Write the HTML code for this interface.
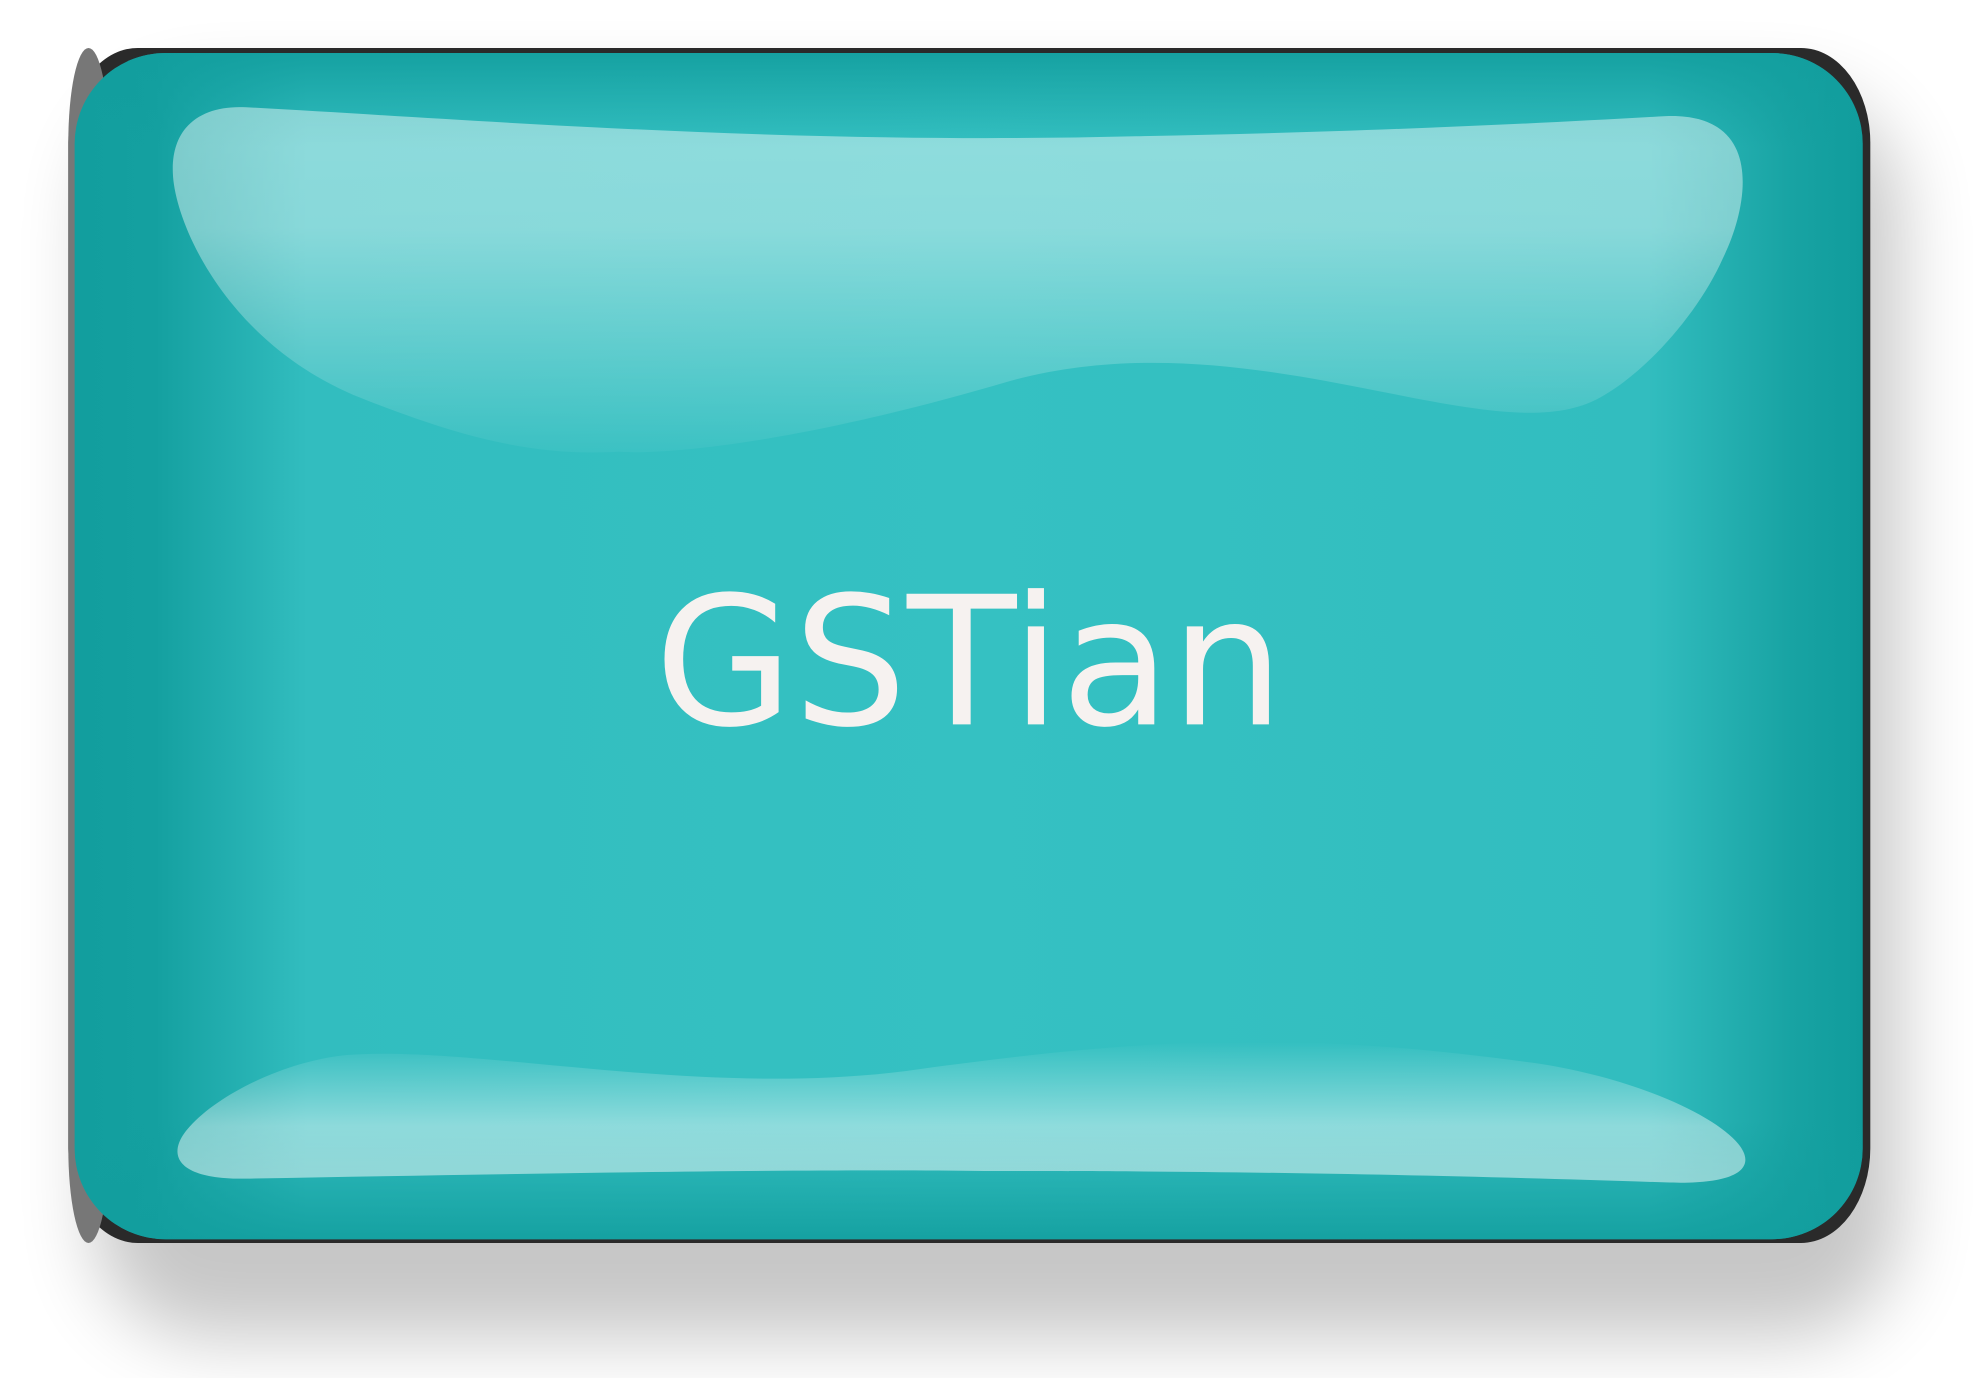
<!DOCTYPE html>
<html><head><meta charset="utf-8"><style>
html,body{margin:0;padding:0;background:#fff;width:1979px;height:1378px;overflow:hidden}
svg{display:block}
</style></head><body>
<svg width="1979" height="1378" viewBox="0 0 1568 1092" xmlns="http://www.w3.org/2000/svg">
<defs>
<filter id="blur" x="-20%" y="-20%" width="140%" height="140%"><feGaussianBlur stdDeviation="30"/></filter>
<linearGradient id="hz" x1="0" x2="1" y1="0" y2="0">
<stop offset="0" stop-color="#129e9e"/><stop offset="0.045" stop-color="#14a0a0"/>
<stop offset="0.13" stop-color="#32bdbf"/><stop offset="0.5" stop-color="#35c1c2"/>
<stop offset="0.88" stop-color="#32bdbf"/><stop offset="0.96" stop-color="#18a3a3"/><stop offset="1" stop-color="#109c9c"/>
</linearGradient>
<linearGradient id="vt" x1="0" x2="0" y1="0" y2="1">
<stop offset="0" stop-color="#129e9e" stop-opacity="0.9"/><stop offset="0.08" stop-color="#129e9e" stop-opacity="0"/>
<stop offset="0.9" stop-color="#129e9e" stop-opacity="0"/><stop offset="1" stop-color="#129e9e" stop-opacity="0.9"/>
</linearGradient>
<linearGradient id="topg" x1="0" x2="0" y1="0" y2="1">
<stop offset="0" stop-color="#fff" stop-opacity="0.45"/><stop offset="0.35" stop-color="#fff" stop-opacity="0.42"/>
<stop offset="1" stop-color="#fff" stop-opacity="0.04"/>
</linearGradient>
<linearGradient id="botg" x1="0" x2="0" y1="0" y2="1">
<stop offset="0" stop-color="#fff" stop-opacity="0"/><stop offset="0.6" stop-color="#fff" stop-opacity="0.45"/>
<stop offset="1" stop-color="#fff" stop-opacity="0.5"/>
</linearGradient>
</defs>
<rect x="75" y="75" width="1430" height="985" rx="90" fill="#000" opacity="0.22" filter="url(#blur)"/>
<rect x="54" y="38" width="1428" height="947" rx="55" ry="75" fill="#2a2a2a"/>
<rect x="54" y="38" width="32" height="947" rx="32" ry="75" fill="#777"/>
<g>
<rect x="59" y="42" width="1417" height="940" rx="72" fill="url(#hz)"/>
<rect x="59" y="42" width="1417" height="940" rx="72" fill="url(#vt)"/>
<path fill="url(#topg)" d="M195 85 C380 95 620 115 900 108 C1060 105 1200 99 1320 92 C1400 89 1385 165 1365 205 C1345 250 1300 300 1262 318 C1175 358 990 250 800 302 C620 355 520 360 490 358 C420 362 360 345 280 313 C180 270 140 180 137 140 C134 100 160 83 195 85 Z"/>
<path fill="url(#botg)" d="M195 934 C140 935 130 915 150 893 C175 865 230 840 275 836 C380 828 560 872 730 847 C900 824 1020 815 1220 843 C1360 865 1450 942 1320 937 C1050 928 880 928 780 928 C640 926 420 930 195 934 Z"/>
<text x="768" y="574" text-anchor="middle" font-family="'DejaVu Sans','Liberation Sans',sans-serif" font-size="142" fill="#f6f2f0">GSTian</text>
</g>
</svg>
</body></html>
